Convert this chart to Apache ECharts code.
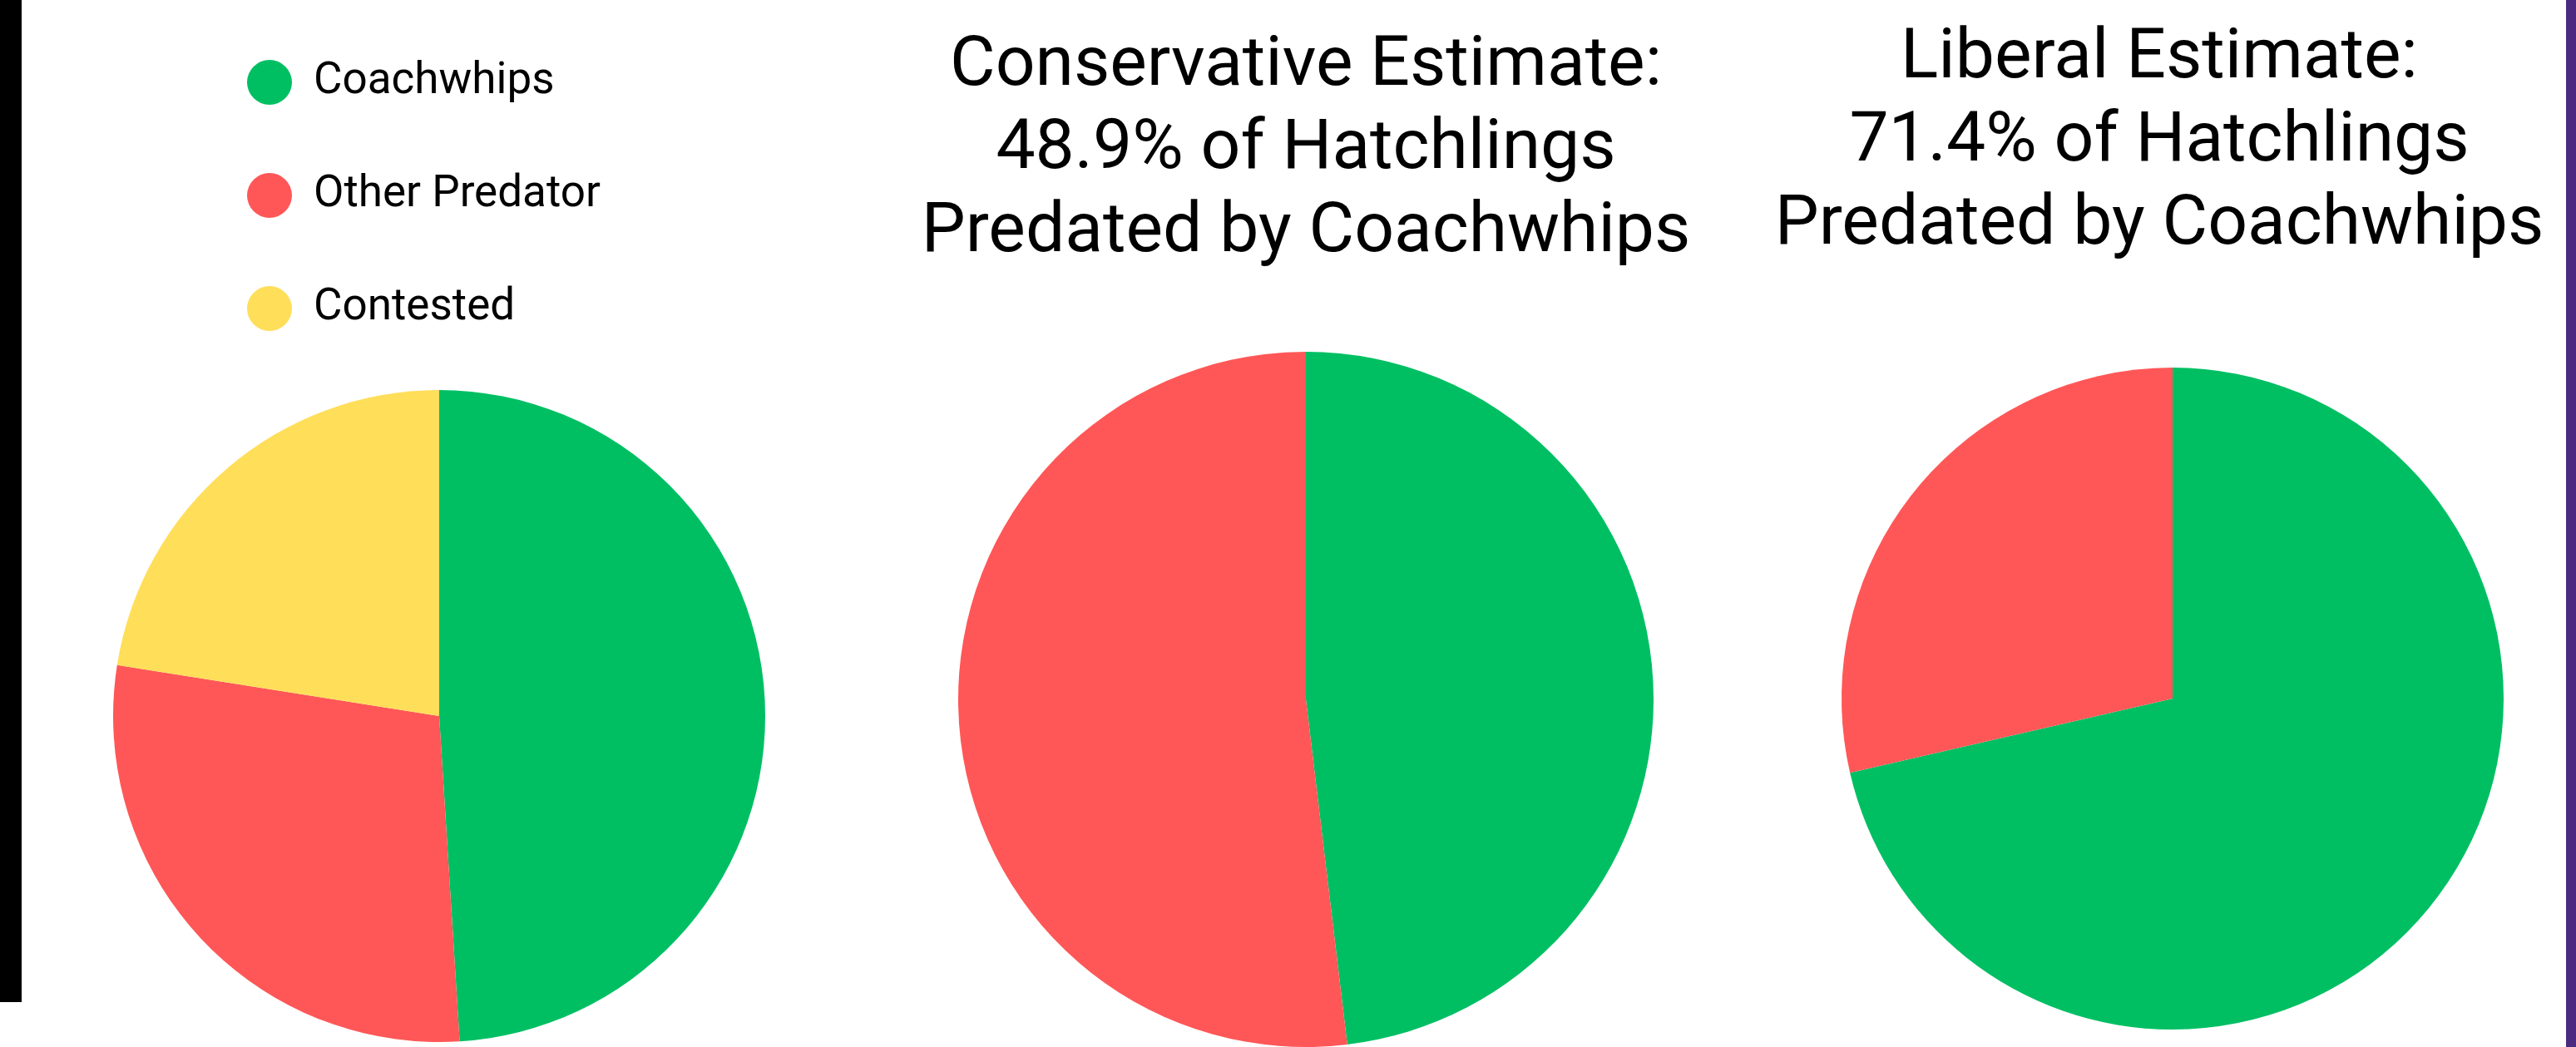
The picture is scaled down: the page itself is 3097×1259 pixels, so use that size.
<!DOCTYPE html>
<html>

<head>
	<meta charset="UTF-8">
	<script src="https://cdn.jsdelivr.net/npm/echarts@6/dist/echarts.min.js"></script>
	<style>
		body {
			margin: 0;
			padding: 0;
			background: #ffffff;
		}

		#chart {
			position: absolute;
			top: 0;
			left: 0;
			width: 3097px;
			height: 1259px;
		}
	</style>
</head>

<body>
	<div id="chart"></div>

	<script>
		// 数据
		var categories = ['Coachwhips', 'Other Predator', 'Contested'];
		var colors = ['#00bf63', '#ff5757', '#ffde59'];

		// 左图：全部
		var allValues = [49.0, 28.5, 22.5];
		// 保守估计
		var conservativeValues = [48.1, 51.9];
		// 宽松估计
		var liberalValues = [71.4, 28.6];

		var titles = [
			'Conservative Estimate:\n48.9% of Hatchlings\nPredated by Coachwhips',
			'Liberal Estimate:\n71.4% of Hatchlings\nPredated by Coachwhips'
		];

		function toData(values) {
			return values.map(function (v, i) {
				return {
					name: categories[i],
					value: v,
					itemStyle: { color: colors[i] }
				};
			});
		}

		function pie(center, radius, values) {
			return {
				type: 'pie',
				center: center,
				radius: radius,
				startAngle: 90,
				clockwise: true,
				label: { show: false },
				labelLine: { show: false },
				emphasis: { disabled: true },
				itemStyle: { borderWidth: 0 },
				data: toData(values)
			};
		}

		var chart = echarts.init(document.getElementById('chart'));
		var titleFont = {
			fontFamily: 'Roboto',
			fontSize: 84,
			lineHeight: 100,
			fontWeight: 'normal',
			color: '#000000'
		};

		chart.setOption({
			animation: false,
			backgroundColor: '#ffffff',
			color: colors,
			title: [{
				text: titles[0],
				left: 1570,
				top: 31,
				padding: 0,
				textAlign: 'center',
				textStyle: titleFont
			}, {
				text: titles[1],
				left: 2596,
				top: 22,
				padding: 0,
				textAlign: 'center',
				textStyle: titleFont
			}],
			legend: {
				orient: 'vertical',
				left: 297,
				top: 72,
				padding: 0,
				icon: 'circle',
				itemWidth: 54,
				itemHeight: 54,
				itemGap: 82,
				data: categories,
				textStyle: {
					fontFamily: 'Roboto',
					fontSize: 53,
					color: '#000000',
					padding: [0, 0, 0, 21]
				}
			},
			graphic: [{
				type: 'rect',
				left: 0,
				top: 0,
				shape: { width: 26, height: 1205 },
				style: { fill: '#000000' }
			}, {
				type: 'rect',
				right: 0,
				top: 0,
				shape: { width: 12, height: 1259 },
				style: { fill: '#4b2b7f' }
			}],
			series: [
				pie([528, 861], 392, allValues),
				pie([1570, 841], 418, conservativeValues),
				pie([2612, 840], 398, liberalValues)
			]
		});
	</script>

</body>

</html>
